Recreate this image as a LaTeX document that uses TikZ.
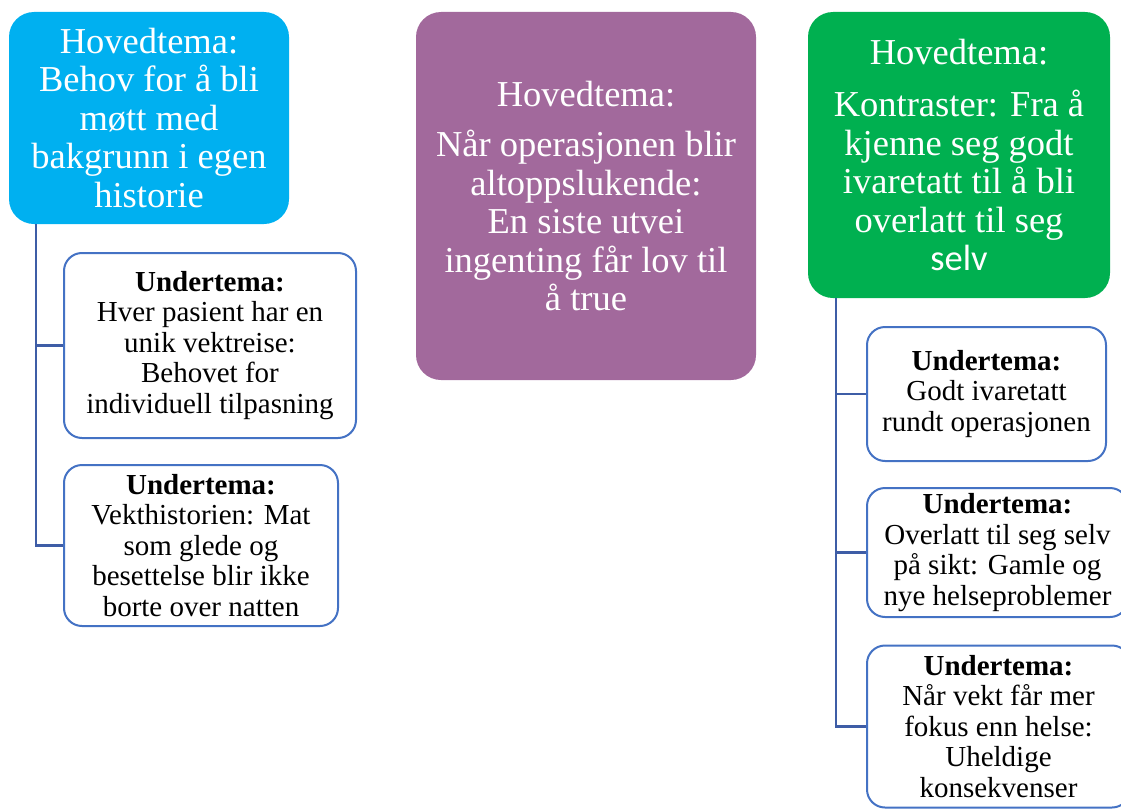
\documentclass[tikz,border=0pt]{standalone}
\usepackage{fontspec}
\setmainfont{Liberation Serif}
\newfontfamily\carlito{Carlito}
\usetikzlibrary{positioning}
\definecolor{hovedblue}{HTML}{00B0F0}
\definecolor{hovedpurple}{HTML}{A2699C}
\definecolor{hovedgreen}{HTML}{00B050}
\definecolor{subborder}{HTML}{4472C4}
\definecolor{branchline}{HTML}{3E5DA6}
\tikzset{
  hoved/.style={rectangle, rounded corners=25pt, text=white, align=center,
    inner sep=2pt, font=\fontsize{36.5}{38.5}\selectfont},
  under/.style={rectangle, rounded corners=18pt, draw=subborder, line width=2pt,
    fill=white, align=center, inner sep=2pt, font=\fontsize{29}{30.5}\selectfont},
  branch/.style={draw=branchline, line width=2.5pt}
}

\begin{document}
\begin{tikzpicture}[x=1pt, y=-1pt]
        \clip (0,0) rectangle (1121,808);
        %hovedtema
        \node[hoved, fill=hovedblue, minimum width=280, minimum height=212] (blue) at (149, 118)
          {Hovedtema:\\Behov for å bli\\møtt med\\bakgrunn i egen\\historie};
        \node[hoved, fill=hovedpurple, minimum width=340, minimum height=368] (purple) at (586, 196)
          {Hovedtema:\\[12pt]Når operasjonen blir\\altoppslukende:\\En siste utvei\\ingenting får lov til\\å true};
        \node[hoved, fill=hovedgreen, minimum width=302, minimum height=286] (green) at (959, 155)
          {Hovedtema:\\[14pt]Kontraster: Fra å\\kjenne seg godt\\ivaretatt til å bli\\overlatt til seg\\{\carlito selv}};
        %undertema
        \node[under, minimum width=292, minimum height=185] (lsubA) at (210, 345.5)
          {\textbf{Undertema:}\\Hver pasient har en\\unik vektreise:\\Behovet for\\individuell tilpasning};
        \node[under, minimum width=274, minimum height=161] (lsubB) at (201, 545.5)
          {\textbf{Undertema:}\\Vekthistorien: Mat\\som glede og\\besettelse blir ikke\\borte over natten};
        \node[under, minimum width=239, minimum height=134] (rsubA) at (986.5, 394)
          {\textbf{Undertema:}\\Godt ivaretatt\\rundt operasjonen};
        \node[under, minimum width=261, minimum height=129] (rsubB) at (997.5, 552.5)
          {\textbf{Undertema:}\\Overlatt til seg selv\\på sikt: Gamle og\\nye helseproblemer};
        \node[under, minimum width=263, minimum height=162] (rsubC) at (998.5, 726.5)
          {\textbf{Undertema:}\\Når vekt får mer\\fokus enn helse:\\Uheldige\\konsekvenser};
        %branches
        \draw[branch] ([xshift=27pt]blue.south west) |- (lsubA.west);
        \draw[branch] ([xshift=27pt]blue.south west) |- (lsubB.west);
        \draw[branch] ([xshift=28pt]green.south west) |- (rsubA.west);
        \draw[branch] ([xshift=28pt]green.south west) |- (rsubB.west);
        \draw[branch] ([xshift=28pt]green.south west) |- (rsubC.west);
      \end{tikzpicture}
\end{document}
